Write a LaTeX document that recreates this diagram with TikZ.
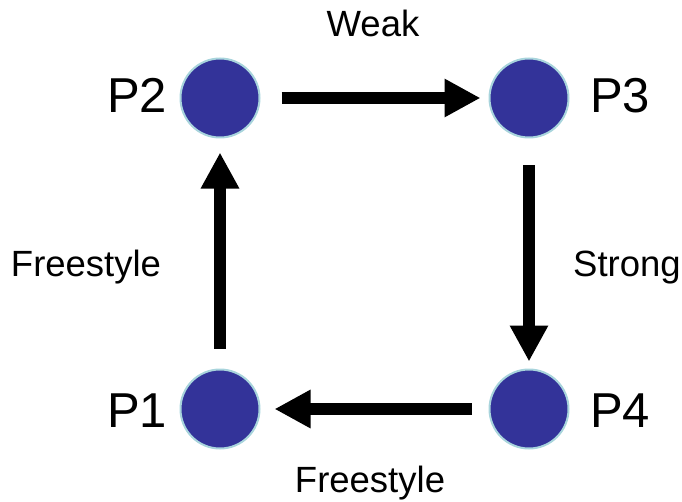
\documentclass[tikz,border=0pt]{standalone}
\usepackage{fontspec}
\setmainfont{Liberation Sans}
\usetikzlibrary{arrows.meta}
\definecolor{discfill}{HTML}{333399}
\definecolor{discedge}{HTML}{A8D4DC}
\begin{document}
\begin{tikzpicture}[x=1bp,y=-1bp,
  disc/.style={circle,fill=discfill,draw=discedge,line width=2bp,minimum size=79bp,inner sep=0pt},
  plabel/.style={anchor=base west,inner sep=0pt,font=\fontsize{49bp}{56bp}\selectfont},
  elabel/.style={anchor=base,inner sep=0pt,font=\fontsize{36.5bp}{42bp}\selectfont},
  bigarrow/.style={line width=12bp,-{Triangle[length=36bp,width=36bp]}}]
\useasboundingbox (0,0) rectangle (682,502);
\node[disc] (P2) at (220,98) {};
\node[disc] (P3) at (529,98) {};
\node[disc] (P1) at (220,409) {};
\node[disc] (P4) at (529,409) {};
\node[plabel] (l2) at (107,113) {P2};
\node[plabel] (l3) at (590,113) {P3};
\node[plabel] (l1) at (107,427) {P1};
\node[plabel] (l4) at (590,427) {P4};
\draw[bigarrow,shorten <=21bp,shorten >=8bp] (P2) -- (P3);
\draw[bigarrow,shorten <=27bp,shorten >=7bp] (P3) -- (P4);
\draw[bigarrow,shorten <=17bp,shorten >=14bp] (P4) -- (P1);
\draw[bigarrow,shorten <=20bp,shorten >=14bp] (P1) -- (P2);
\node[elabel] (weak) at (373,37) {Weak};
\node[elabel] (strong) at (627,276) {Strong};
\node[elabel] (free1) at (86,276) {Freestyle};
\node[elabel] (free2) at (370,492) {Freestyle};
\end{tikzpicture}
\end{document}
